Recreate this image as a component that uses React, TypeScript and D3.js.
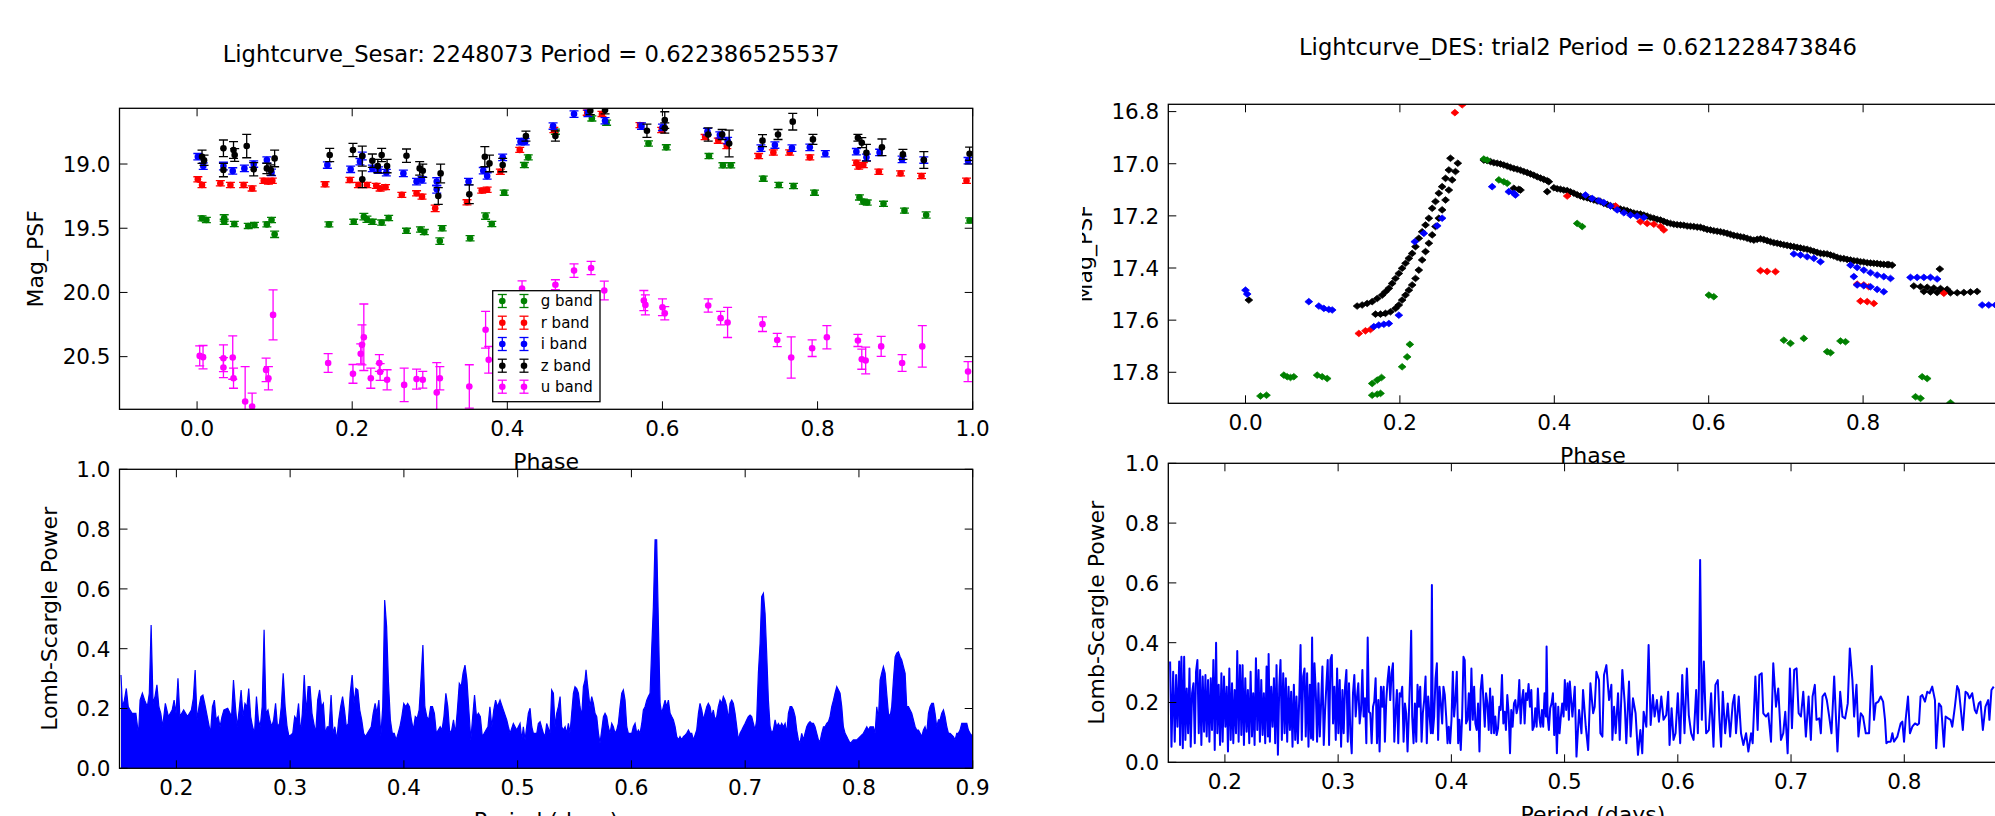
import React from 'react';
import * as d3 from 'd3';

// ---------------- text ----------------
const sesarTitle = 'Lightcurve_Sesar: 2248073 Period = 0.622386525537';
const desTitle = 'Lightcurve_DES: trial2 Period = 0.621228473846';
const bandNames = ['g band', 'r band', 'i band', 'z band', 'u band'];

// ---------------- ticks ----------------
const phaseTicks = [0.0, 0.2, 0.4, 0.6, 0.8, 1.0];
const sesarMagTicks = [19.0, 19.5, 20.0, 20.5];
const desMagTicks = [16.8, 17.0, 17.2, 17.4, 17.6, 17.8];
const powerTicks = [0.0, 0.2, 0.4, 0.6, 0.8, 1.0];
const periodTicks = [0.2, 0.3, 0.4, 0.5, 0.6, 0.7, 0.8, 0.9];

// ---------------- Sesar light curve: [phase, mag, err] ----------------
const gBand: [number, number, number][] = [
  [0.0064, 19.423, 0.02], [0.012, 19.436, 0.02], [0.035, 19.42, 0.025], [0.035, 19.45, 0.02], [0.048, 19.467, 0.02],
  [0.066, 19.482, 0.02], [0.074, 19.475, 0.02], [0.09, 19.47, 0.02], [0.096, 19.436, 0.02], [0.1, 19.547, 0.025],
  [0.17, 19.47, 0.02], [0.202, 19.45, 0.02], [0.215, 19.41, 0.025], [0.219, 19.43, 0.025], [0.226, 19.45, 0.02],
  [0.238, 19.456, 0.02], [0.247, 19.42, 0.02], [0.27, 19.52, 0.02], [0.288, 19.51, 0.02], [0.293, 19.53, 0.02],
  [0.313, 19.6, 0.025], [0.316, 19.5, 0.02], [0.352, 19.578, 0.02], [0.372, 19.405, 0.025], [0.38, 19.467, 0.02],
  [0.396, 19.223, 0.02], [0.422, 19.008, 0.02], [0.427, 18.948, 0.02], [0.462, 18.748, 0.02], [0.509, 18.645, 0.02],
  [0.528, 18.678, 0.02], [0.582, 18.84, 0.02], [0.605, 18.87, 0.02], [0.66, 18.938, 0.02], [0.678, 19.01, 0.02],
  [0.688, 19.01, 0.02], [0.73, 19.114, 0.02], [0.75, 19.163, 0.02], [0.769, 19.171, 0.02], [0.796, 19.223, 0.02],
  [0.854, 19.26, 0.02], [0.859, 19.293, 0.02], [0.864, 19.3, 0.02], [0.885, 19.31, 0.02], [0.912, 19.363, 0.02],
  [0.94, 19.397, 0.025], [0.996, 19.44, 0.02],
];
const rBand: [number, number, number][] = [
  [0.001, 19.119, 0.02], [0.0064, 19.163, 0.02], [0.03, 19.15, 0.02], [0.043, 19.163, 0.02], [0.06, 19.163, 0.02],
  [0.071, 19.19, 0.02], [0.086, 19.13, 0.02], [0.092, 19.137, 0.02], [0.097, 19.13, 0.02], [0.165, 19.158, 0.02],
  [0.197, 19.124, 0.02], [0.208, 19.163, 0.02], [0.219, 19.163, 0.02], [0.231, 19.17, 0.02], [0.236, 19.19, 0.02],
  [0.243, 19.18, 0.02], [0.264, 19.24, 0.02], [0.283, 19.228, 0.02], [0.29, 19.254, 0.02], [0.307, 19.345, 0.025],
  [0.348, 19.298, 0.02], [0.367, 19.207, 0.02], [0.374, 19.2, 0.02], [0.391, 19.06, 0.02], [0.416, 18.89, 0.02],
  [0.46, 18.735, 0.02], [0.503, 18.6, 0.02], [0.522, 18.61, 0.02], [0.571, 18.697, 0.02], [0.599, 18.735, 0.02],
  [0.655, 18.79, 0.02], [0.672, 18.818, 0.02], [0.683, 18.86, 0.02], [0.724, 18.938, 0.02], [0.743, 18.91, 0.02],
  [0.764, 18.91, 0.02], [0.79, 18.948, 0.02], [0.85, 18.99, 0.02], [0.853, 19.02, 0.02], [0.859, 19.008, 0.02],
  [0.879, 19.06, 0.02], [0.907, 19.073, 0.02], [0.934, 19.093, 0.02], [0.992, 19.13, 0.02],
];
const iBand: [number, number, number][] = [
  [0.001, 18.943, 0.025], [0.008, 19.016, 0.025], [0.034, 19.016, 0.03], [0.046, 19.054, 0.025], [0.061, 19.034, 0.025],
  [0.073, 19.0, 0.025], [0.09, 18.969, 0.025], [0.096, 19.065, 0.025], [0.168, 19.008, 0.025], [0.198, 19.041, 0.025],
  [0.21, 18.982, 0.025], [0.213, 18.938, 0.03], [0.226, 19.034, 0.025], [0.234, 19.047, 0.025], [0.244, 19.067, 0.025],
  [0.266, 19.073, 0.025], [0.283, 19.137, 0.025], [0.29, 19.124, 0.025], [0.309, 19.197, 0.03], [0.309, 19.137, 0.03],
  [0.35, 19.137, 0.025], [0.369, 19.052, 0.025], [0.374, 19.093, 0.025], [0.394, 18.948, 0.025], [0.417, 18.826, 0.025],
  [0.423, 18.826, 0.025], [0.459, 18.704, 0.025], [0.486, 18.611, 0.025], [0.504, 18.606, 0.025], [0.526, 18.663, 0.025],
  [0.573, 18.704, 0.025], [0.6, 18.715, 0.025], [0.658, 18.748, 0.025], [0.674, 18.774, 0.025], [0.684, 18.818, 0.025],
  [0.727, 18.876, 0.025], [0.745, 18.852, 0.025], [0.767, 18.876, 0.025], [0.79, 18.87, 0.025], [0.81, 18.92, 0.025],
  [0.85, 18.904, 0.025], [0.863, 18.948, 0.025], [0.88, 18.91, 0.025], [0.909, 18.964, 0.025], [0.937, 18.969, 0.025],
  [0.994, 18.974, 0.025],
];
const zBand: [number, number, number][] = [
  [0.0064, 18.943, 0.052], [0.009, 18.97, 0.04], [0.034, 18.878, 0.065], [0.034, 19.047, 0.052], [0.047, 18.891, 0.065],
  [0.0485, 18.93, 0.05], [0.064, 18.86, 0.091], [0.073, 19.041, 0.052], [0.09, 19.034, 0.04], [0.095, 19.047, 0.04],
  [0.1, 18.956, 0.065], [0.171, 18.93, 0.052], [0.201, 18.891, 0.052], [0.213, 19.119, 0.065], [0.213, 18.938, 0.078],
  [0.226, 18.974, 0.052], [0.233, 19.016, 0.052], [0.238, 18.93, 0.052], [0.245, 19.016, 0.052], [0.27, 18.935, 0.052],
  [0.287, 19.034, 0.052], [0.291, 19.052, 0.052], [0.311, 19.249, 0.065], [0.314, 19.073, 0.073], [0.351, 19.236, 0.073],
  [0.371, 18.943, 0.078], [0.377, 18.995, 0.065], [0.394, 19.008, 0.052], [0.424, 18.782, 0.039], [0.462, 18.782, 0.04],
  [0.507, 18.585, 0.03], [0.526, 18.58, 0.03], [0.58, 18.741, 0.052], [0.603, 18.658, 0.065], [0.603, 18.72, 0.04],
  [0.659, 18.77, 0.052], [0.677, 18.77, 0.039], [0.686, 18.84, 0.104], [0.729, 18.818, 0.047], [0.749, 18.77, 0.039],
  [0.768, 18.67, 0.065], [0.794, 18.808, 0.039], [0.852, 18.795, 0.026], [0.857, 18.834, 0.039], [0.863, 18.912, 0.065],
  [0.883, 18.87, 0.065], [0.91, 18.925, 0.039], [0.937, 18.969, 0.065], [0.996, 18.92, 0.052],
];
const uBand: [number, number, number][] = [
  [0.0034, 20.494, 0.078], [0.0077, 20.504, 0.091], [0.034, 20.512, 0.104], [0.034, 20.585, 0.078], [0.046, 20.507, 0.169],
  [0.047, 20.668, 0.078], [0.062, 20.849, 0.272], [0.071, 20.888, 0.104], [0.089, 20.603, 0.091], [0.092, 20.668, 0.091],
  [0.098, 20.175, 0.195], [0.169, 20.55, 0.073], [0.201, 20.634, 0.073], [0.211, 20.478, 0.078], [0.2126, 20.408, 0.156],
  [0.215, 20.349, 0.259], [0.224, 20.668, 0.078], [0.235, 20.55, 0.065], [0.236, 20.62, 0.065], [0.245, 20.68, 0.078],
  [0.267, 20.72, 0.13], [0.283, 20.675, 0.078], [0.291, 20.68, 0.065], [0.309, 20.78, 0.233], [0.313, 20.668, 0.091],
  [0.351, 20.732, 0.169], [0.372, 20.29, 0.143], [0.376, 20.525, 0.104], [0.419, 19.97, 0.06], [0.462, 19.94, 0.039],
  [0.486, 19.83, 0.052], [0.508, 19.81, 0.052], [0.525, 19.985, 0.073], [0.576, 20.063, 0.078], [0.578, 20.097, 0.078],
  [0.6, 20.115, 0.065], [0.603, 20.162, 0.052], [0.659, 20.102, 0.052], [0.675, 20.2, 0.052], [0.684, 20.234, 0.117],
  [0.729, 20.247, 0.057], [0.748, 20.37, 0.052], [0.766, 20.507, 0.161], [0.793, 20.434, 0.065], [0.812, 20.349, 0.091],
  [0.852, 20.374, 0.047], [0.857, 20.52, 0.078], [0.862, 20.53, 0.104], [0.882, 20.42, 0.078], [0.909, 20.55, 0.065],
  [0.935, 20.42, 0.161], [0.994, 20.616, 0.078],
];

// ---------------- DES light curve: [phase, mag] ----------------
const desZ: [number, number][] = [
  [0.0043, 17.523],
  [0.1446, 17.546], [0.1511, 17.542], [0.1576, 17.536], [0.1641, 17.529], [0.1706, 17.517], [0.177, 17.504], [0.1813, 17.491],
  [0.1857, 17.478], [0.19, 17.459], [0.1943, 17.44], [0.1986, 17.421], [0.2029, 17.401], [0.2073, 17.382], [0.2116, 17.363],
  [0.2159, 17.344], [0.2202, 17.318], [0.2245, 17.286], [0.2288, 17.261], [0.2332, 17.235], [0.2375, 17.209], [0.2418, 17.171],
  [0.2461, 17.145], [0.2504, 17.113], [0.2547, 17.088], [0.2591, 17.056], [0.2634, 17.024], [0.2655, 16.979],
  [0.1684, 17.577], [0.1749, 17.577], [0.1813, 17.574], [0.1878, 17.568], [0.1943, 17.555], [0.1986, 17.542], [0.2029, 17.523],
  [0.2073, 17.504], [0.2116, 17.485], [0.2159, 17.465], [0.2202, 17.44], [0.2245, 17.408], [0.2288, 17.369], [0.2332, 17.337],
  [0.2375, 17.305], [0.2418, 17.273], [0.2461, 17.241], [0.2504, 17.209], [0.2547, 17.177], [0.2591, 17.139], [0.2634, 17.101],
  [0.2677, 17.062], [0.272, 17.03], [0.275, 16.998],
  [0.3087, 16.986], [0.313, 16.988], [0.3174, 16.992], [0.3217, 16.996], [0.326, 16.998], [0.3303, 17.001], [0.3346, 17.005],
  [0.3389, 17.009], [0.3433, 17.014], [0.3476, 17.018], [0.3519, 17.021], [0.3562, 17.025], [0.3605, 17.03], [0.3649, 17.034],
  [0.3692, 17.039], [0.3735, 17.044], [0.3778, 17.05], [0.3821, 17.055], [0.3864, 17.06], [0.3908, 17.065], [0.3929, 17.069],
  [0.3476, 17.094], [0.3562, 17.101], [0.354, 17.098], [0.3908, 17.107],
  [0.3994, 17.092], [0.4037, 17.096], [0.408, 17.098], [0.4123, 17.101], [0.4167, 17.103], [0.421, 17.108], [0.4253, 17.113],
  [0.4296, 17.119], [0.4339, 17.124], [0.4382, 17.128], [0.4426, 17.131], [0.4469, 17.135], [0.4512, 17.139], [0.4555, 17.143],
  [0.4598, 17.145], [0.4641, 17.152], [0.4685, 17.156], [0.4728, 17.161], [0.4771, 17.165], [0.4814, 17.17], [0.4857, 17.174],
  [0.4901, 17.177], [0.4944, 17.18], [0.4987, 17.185], [0.503, 17.189], [0.5073, 17.192], [0.5116, 17.193], [0.516, 17.197],
  [0.5203, 17.201], [0.5246, 17.206], [0.5289, 17.209], [0.5332, 17.213], [0.5376, 17.216], [0.5419, 17.221], [0.5462, 17.226],
  [0.5505, 17.229], [0.5548, 17.232], [0.5591, 17.234], [0.5635, 17.235], [0.5678, 17.236], [0.5721, 17.239], [0.5764, 17.24],
  [0.5807, 17.241], [0.5851, 17.243], [0.5894, 17.244], [0.5937, 17.248], [0.598, 17.252], [0.6023, 17.254], [0.6066, 17.257],
  [0.611, 17.259], [0.6153, 17.261], [0.6196, 17.264], [0.6239, 17.267], [0.6282, 17.271], [0.6325, 17.275], [0.6369, 17.277],
  [0.6412, 17.28], [0.6455, 17.282], [0.6498, 17.286], [0.6541, 17.29], [0.6585, 17.293], [0.6628, 17.29], [0.6671, 17.288],
  [0.6714, 17.291], [0.6757, 17.295], [0.68, 17.299], [0.6844, 17.303], [0.6887, 17.305], [0.693, 17.308], [0.6973, 17.311],
  [0.7016, 17.313], [0.706, 17.316], [0.7103, 17.318], [0.7146, 17.321], [0.7189, 17.323], [0.7232, 17.326], [0.7275, 17.328],
  [0.7319, 17.332], [0.7362, 17.336], [0.7405, 17.34], [0.7448, 17.344], [0.7491, 17.345], [0.7534, 17.346], [0.7578, 17.35],
  [0.7621, 17.354], [0.7664, 17.359], [0.7707, 17.363], [0.775, 17.364], [0.7793, 17.367], [0.7837, 17.369], [0.788, 17.372],
  [0.7923, 17.373], [0.7966, 17.376], [0.8009, 17.377], [0.8053, 17.38], [0.8096, 17.381], [0.8139, 17.382], [0.8182, 17.383],
  [0.8225, 17.385], [0.8268, 17.386], [0.8312, 17.387], [0.8333, 17.387], [0.8376, 17.389],
  [0.8994, 17.404],
  [0.8657, 17.469], [0.8744, 17.472], [0.883, 17.474], [0.8916, 17.477], [0.9003, 17.479], [0.9089, 17.482],
  [0.8787, 17.49], [0.8873, 17.492], [0.8959, 17.494], [0.9046, 17.494], [0.9132, 17.495], [0.9219, 17.495], [0.9305, 17.494],
  [0.9391, 17.492], [0.9477, 17.49],
];
const desI: [number, number][] = [
  [0.0, 17.485], [0.0022, 17.5], [0.082, 17.529], [0.095, 17.546], [0.1015, 17.555], [0.1079, 17.559], [0.1123, 17.561],
  [0.1662, 17.625], [0.1727, 17.619], [0.1792, 17.616], [0.1857, 17.613], [0.1986, 17.581], [0.2193, 17.299], [0.231, 17.267],
  [0.2483, 17.238], [0.2547, 17.209], [0.3195, 17.088], [0.3411, 17.107], [0.3497, 17.12], [0.3476, 17.113],
  [0.4404, 17.12], [0.449, 17.133], [0.4577, 17.142], [0.4641, 17.149], [0.4728, 17.162], [0.4814, 17.177], [0.4901, 17.188],
  [0.4987, 17.197], [0.5073, 17.201], [0.516, 17.206],
  [0.7103, 17.346], [0.7189, 17.35], [0.7275, 17.357], [0.7362, 17.363], [0.7448, 17.376],
  [0.7837, 17.389], [0.7923, 17.398], [0.8009, 17.408], [0.8096, 17.418], [0.8182, 17.427], [0.8268, 17.433], [0.8355, 17.44],
  [0.788, 17.433], [0.7923, 17.465], [0.8009, 17.468], [0.8096, 17.472], [0.8182, 17.482], [0.8268, 17.491],
  [0.8614, 17.436], [0.87, 17.436], [0.8787, 17.436], [0.8873, 17.436], [0.8959, 17.442],
  [0.9542, 17.542], [0.9628, 17.542], [0.9715, 17.542],
];
const desR: [number, number][] = [
  [0.2712, 16.804], [0.2807, 16.774], [0.1468, 17.651], [0.1554, 17.641], [0.1619, 17.636],
  [0.4167, 17.124], [0.4793, 17.162], [0.5116, 17.222], [0.5203, 17.229], [0.5289, 17.232], [0.5376, 17.241], [0.5419, 17.254],
  [0.6671, 17.41], [0.6757, 17.413], [0.6865, 17.414], [0.7923, 17.462], [0.8009, 17.465], [0.8074, 17.472],
  [0.7966, 17.527], [0.8053, 17.529], [0.8139, 17.536], [0.9046, 17.497],
];
const desG: [number, number][] = [
  [0.0194, 17.891], [0.0272, 17.888], [0.0497, 17.811], [0.054, 17.817], [0.0583, 17.82], [0.0626, 17.817],
  [0.0928, 17.811], [0.0993, 17.817], [0.1058, 17.824], [0.1641, 17.888], [0.1706, 17.884], [0.1749, 17.881],
  [0.1641, 17.843], [0.1706, 17.83], [0.1762, 17.82], [0.2029, 17.779], [0.2094, 17.741], [0.2129, 17.693],
  [0.3087, 16.982], [0.313, 16.986], [0.3282, 17.062], [0.3346, 17.069], [0.339, 17.075],
  [0.4296, 17.229], [0.4361, 17.241], [0.6002, 17.504], [0.6066, 17.51], [0.6973, 17.677], [0.7059, 17.689], [0.7232, 17.67],
  [0.7534, 17.721], [0.7578, 17.725], [0.7707, 17.68], [0.7772, 17.683], [0.8765, 17.817], [0.883, 17.824],
  [0.8679, 17.894], [0.8744, 17.9], [0.9132, 17.917],
];

// ---------------- Sesar Lomb-Scargle (upper envelope): [period, power] ----------------
const lsSesar: [number, number][] = [
  [0.1513, 0.312], [0.1526, 0.206], [0.1543, 0.228], [0.156, 0.267], [0.1577, 0.206], [0.1593, 0.195], [0.161, 0.184],
  [0.1644, 0.184], [0.1667, 0.111], [0.1681, 0.228], [0.1701, 0.251], [0.1721, 0.228], [0.1745, 0.206], [0.1762, 0.251],
  [0.1778, 0.479], [0.1795, 0.217], [0.1812, 0.24], [0.1829, 0.279], [0.1846, 0.206], [0.1863, 0.184], [0.1879, 0.139],
  [0.1903, 0.217], [0.193, 0.173], [0.1963, 0.195], [0.198, 0.228], [0.1997, 0.184], [0.2014, 0.301], [0.2031, 0.173],
  [0.2064, 0.195], [0.2098, 0.173], [0.2132, 0.195], [0.2149, 0.234], [0.2165, 0.329], [0.2182, 0.162], [0.2199, 0.206],
  [0.2216, 0.24], [0.2233, 0.245], [0.2249, 0.217], [0.2266, 0.184], [0.23, 0.117], [0.2317, 0.206], [0.2334, 0.228],
  [0.235, 0.162], [0.2367, 0.173], [0.2384, 0.139], [0.2401, 0.173], [0.2418, 0.195], [0.2451, 0.201], [0.2485, 0.173],
  [0.2502, 0.295], [0.2519, 0.206], [0.2535, 0.139], [0.2552, 0.195], [0.2569, 0.262], [0.2586, 0.173], [0.2603, 0.217],
  [0.262, 0.206], [0.2636, 0.267], [0.2653, 0.173], [0.267, 0.139], [0.2687, 0.117], [0.2704, 0.24], [0.2721, 0.162],
  [0.2737, 0.139], [0.2754, 0.206], [0.2771, 0.463], [0.2788, 0.184], [0.2805, 0.195], [0.2822, 0.162], [0.2838, 0.139],
  [0.2855, 0.162], [0.2872, 0.217], [0.2889, 0.139], [0.2906, 0.15], [0.2922, 0.206], [0.2939, 0.318], [0.2956, 0.206],
  [0.2973, 0.139], [0.299, 0.106], [0.3023, 0.117], [0.304, 0.173], [0.3057, 0.162], [0.3074, 0.217], [0.3091, 0.117],
  [0.3107, 0.184], [0.3124, 0.312], [0.3141, 0.184], [0.3158, 0.273], [0.3175, 0.273], [0.3192, 0.184], [0.3208, 0.15],
  [0.3225, 0.117], [0.3242, 0.228], [0.3259, 0.262], [0.3276, 0.206], [0.3292, 0.217], [0.3309, 0.117], [0.3326, 0.139],
  [0.3343, 0.139], [0.336, 0.245], [0.3377, 0.117], [0.3393, 0.139], [0.341, 0.095], [0.3427, 0.162], [0.3444, 0.206],
  [0.3461, 0.24], [0.3478, 0.195], [0.3494, 0.139], [0.3511, 0.15], [0.3528, 0.251], [0.3545, 0.312], [0.3562, 0.217],
  [0.3578, 0.267], [0.3595, 0.262], [0.3612, 0.195], [0.3629, 0.162], [0.3646, 0.117], [0.3663, 0.106], [0.3679, 0.117],
  [0.3696, 0.128], [0.3713, 0.139], [0.373, 0.184], [0.3747, 0.217], [0.3763, 0.184], [0.378, 0.228], [0.3797, 0.106],
  [0.3814, 0.206], [0.3831, 0.563], [0.3848, 0.474], [0.3864, 0.29], [0.3881, 0.162], [0.3898, 0.117], [0.3915, 0.117],
  [0.3932, 0.095], [0.3949, 0.117], [0.3965, 0.139], [0.3982, 0.173], [0.3999, 0.217], [0.4016, 0.206], [0.4033, 0.217],
  [0.4049, 0.206], [0.4066, 0.162], [0.4083, 0.128], [0.41, 0.173], [0.4117, 0.167], [0.4134, 0.195], [0.415, 0.295],
  [0.4167, 0.412], [0.4184, 0.206], [0.4201, 0.173], [0.4218, 0.162], [0.4235, 0.206], [0.4251, 0.206], [0.4268, 0.184],
  [0.4285, 0.117], [0.4302, 0.128], [0.4319, 0.139], [0.4335, 0.128], [0.4352, 0.173], [0.4369, 0.251], [0.4386, 0.206],
  [0.4403, 0.117], [0.442, 0.128], [0.4436, 0.162], [0.4453, 0.117], [0.447, 0.195], [0.4487, 0.284], [0.4504, 0.273],
  [0.452, 0.318], [0.4537, 0.345], [0.4554, 0.295], [0.4571, 0.195], [0.4588, 0.095], [0.4605, 0.173], [0.4621, 0.245],
  [0.4638, 0.173], [0.4655, 0.184], [0.4672, 0.173], [0.4689, 0.106], [0.4706, 0.117], [0.4722, 0.128], [0.4739, 0.139],
  [0.4756, 0.206], [0.4773, 0.139], [0.479, 0.195], [0.4806, 0.228], [0.4823, 0.206],
  [0.4845, 0.228], [0.4874, 0.195], [0.4904, 0.162], [0.4918, 0.139], [0.4933, 0.117], [0.4962, 0.15], [0.4992, 0.128],
  [0.5021, 0.15], [0.5036, 0.095], [0.505, 0.139], [0.5065, 0.095], [0.5094, 0.184], [0.5109, 0.201], [0.5124, 0.139],
  [0.5138, 0.117], [0.5168, 0.117], [0.5182, 0.15], [0.5197, 0.156], [0.5226, 0.117], [0.5241, 0.106], [0.5255, 0.15],
  [0.5285, 0.117], [0.5299, 0.262], [0.5314, 0.251], [0.5329, 0.139], [0.5343, 0.184], [0.5358, 0.206], [0.5373, 0.24],
  [0.5387, 0.139], [0.5402, 0.128], [0.5417, 0.139], [0.5431, 0.117], [0.5446, 0.15], [0.546, 0.117], [0.5475, 0.184],
  [0.549, 0.251], [0.5504, 0.273], [0.5519, 0.267], [0.5534, 0.251], [0.5548, 0.206], [0.5563, 0.173], [0.5578, 0.273],
  [0.5592, 0.295], [0.5601, 0.329], [0.5613, 0.284], [0.5636, 0.206], [0.5651, 0.24], [0.5666, 0.217], [0.568, 0.184],
  [0.5695, 0.173], [0.571, 0.117], [0.5724, 0.084], [0.5739, 0.128], [0.5754, 0.173], [0.5768, 0.184], [0.5783, 0.173],
  [0.5797, 0.139], [0.5812, 0.117], [0.5827, 0.15], [0.5841, 0.139], [0.5856, 0.117], [0.5871, 0.128], [0.5885, 0.15],
  [0.59, 0.206], [0.5915, 0.251], [0.5929, 0.262], [0.5944, 0.228], [0.5959, 0.139], [0.5973, 0.117], [0.6003, 0.117],
  [0.6017, 0.139], [0.6032, 0.15], [0.6047, 0.117], [0.6061, 0.128], [0.6076, 0.117], [0.6091, 0.15], [0.6105, 0.195],
  [0.612, 0.206], [0.6135, 0.228], [0.6149, 0.24], [0.6164, 0.251], [0.6178, 0.396], [0.6193, 0.541], [0.6208, 0.764],
  [0.6222, 0.764], [0.6237, 0.485], [0.6252, 0.217], [0.6266, 0.184], [0.6281, 0.206], [0.6296, 0.228], [0.631, 0.206],
  [0.6325, 0.228], [0.634, 0.184], [0.6354, 0.173], [0.6369, 0.162], [0.6384, 0.139], [0.6398, 0.106], [0.6413, 0.095],
  [0.6427, 0.106], [0.6442, 0.095], [0.6457, 0.106], [0.6471, 0.111], [0.6486, 0.117], [0.6501, 0.128], [0.6515, 0.117],
  [0.653, 0.117], [0.6545, 0.095], [0.6559, 0.111], [0.6574, 0.128], [0.6589, 0.184], [0.6603, 0.217], [0.6618, 0.195],
  [0.6633, 0.162], [0.6647, 0.184], [0.6662, 0.206], [0.6676, 0.217], [0.6691, 0.206], [0.6706, 0.173], [0.672, 0.195],
  [0.6735, 0.162], [0.675, 0.173], [0.6764, 0.206], [0.6779, 0.228], [0.6794, 0.217], [0.6808, 0.24], [0.6823, 0.228],
  [0.6838, 0.206], [0.6852, 0.162], [0.6867, 0.217], [0.6882, 0.228], [0.6896, 0.217], [0.6911, 0.184], [0.6926, 0.139],
  [0.694, 0.095], [0.6955, 0.117], [0.697, 0.128], [0.6984, 0.139], [0.6999, 0.15], [0.7014, 0.162], [0.7028, 0.173],
  [0.7043, 0.178], [0.7057, 0.173], [0.7072, 0.15], [0.7087, 0.128], [0.7101, 0.162], [0.7116, 0.318], [0.7131, 0.418],
  [0.7145, 0.574], [0.716, 0.585], [0.7175, 0.518], [0.7189, 0.385], [0.7204, 0.228], [0.7219, 0.139], [0.7233, 0.117],
  [0.7248, 0.128], [0.7263, 0.162], [0.7277, 0.139], [0.7292, 0.15], [0.7307, 0.139], [0.7321, 0.15], [0.7336, 0.139],
  [0.7351, 0.15], [0.7365, 0.117], [0.738, 0.184], [0.7395, 0.206], [0.7409, 0.206], [0.7424, 0.195], [0.7439, 0.173],
  [0.7453, 0.128], [0.7468, 0.095], [0.7482, 0.084], [0.7497, 0.117], [0.7512, 0.095], [0.7526, 0.117], [0.7541, 0.139],
  [0.7556, 0.15], [0.757, 0.156], [0.7585, 0.15], [0.76, 0.15], [0.7614, 0.139], [0.7629, 0.117], [0.7644, 0.095],
  [0.7658, 0.089], [0.7673, 0.117], [0.7688, 0.139], [0.7702, 0.139], [0.7717, 0.15], [0.7732, 0.156], [0.7746, 0.173],
  [0.7761, 0.206], [0.7776, 0.228], [0.779, 0.251], [0.7805, 0.273], [0.782, 0.262], [0.7834, 0.251], [0.7849, 0.206],
  [0.7863, 0.139], [0.7878, 0.117], [0.7893, 0.106], [0.7907, 0.095], [0.7922, 0.084], [0.7937, 0.089], [0.7951, 0.095],
  [0.7981, 0.095], [0.801, 0.106], [0.8039, 0.117], [0.8069, 0.139], [0.8083, 0.128], [0.8098, 0.139], [0.8127, 0.139],
  [0.8142, 0.117], [0.8157, 0.206], [0.8171, 0.162], [0.8186, 0.295], [0.82, 0.318], [0.8215, 0.34], [0.823, 0.318],
  [0.8244, 0.251], [0.8259, 0.184], [0.8274, 0.173], [0.8288, 0.206], [0.8303, 0.295], [0.8318, 0.373], [0.8332, 0.385],
  [0.8347, 0.39], [0.8362, 0.373], [0.8376, 0.362], [0.8391, 0.34], [0.8406, 0.318], [0.842, 0.206], [0.8435, 0.206],
  [0.845, 0.195], [0.8464, 0.184], [0.8479, 0.162], [0.8494, 0.139], [0.8508, 0.128], [0.8523, 0.128], [0.8538, 0.117],
  [0.8552, 0.106], [0.8567, 0.128], [0.8581, 0.139], [0.8596, 0.117], [0.8611, 0.184], [0.8625, 0.206], [0.864, 0.217],
  [0.8655, 0.217], [0.8669, 0.184], [0.8684, 0.139], [0.8699, 0.162], [0.8713, 0.162], [0.8728, 0.184], [0.8743, 0.195],
  [0.8757, 0.173], [0.8772, 0.139], [0.8787, 0.117], [0.8801, 0.117], [0.883, 0.106], [0.8845, 0.095], [0.886, 0.117],
  [0.8874, 0.117], [0.8889, 0.128], [0.8904, 0.15], [0.8918, 0.15], [0.8948, 0.15], [0.8962, 0.128], [0.8977, 0.117],
  [0.9, 0.106],
];

// ---------------- DES Lomb-Scargle: [period, power] ----------------
const lsDes: [number, number][] = [
  [0.1516, 0.337], [0.1528, 0.052], [0.1543, 0.303], [0.1557, 0.069], [0.1569, 0.292], [0.1581, 0.119], [0.1596, 0.337],
  [0.1604, 0.058], [0.1616, 0.353], [0.1628, 0.047], [0.164, 0.353], [0.1651, 0.075], [0.1663, 0.247], [0.1675, 0.097],
  [0.1687, 0.314], [0.1698, 0.052], [0.171, 0.231], [0.1722, 0.264], [0.1734, 0.064], [0.1745, 0.303], [0.1757, 0.342],
  [0.1769, 0.097], [0.1781, 0.309], [0.1792, 0.058], [0.1804, 0.287], [0.1816, 0.102], [0.1828, 0.292], [0.1839, 0.086],
  [0.1851, 0.275], [0.1863, 0.069], [0.1875, 0.281], [0.1886, 0.108], [0.1898, 0.342], [0.191, 0.041], [0.1922, 0.4],
  [0.1933, 0.097], [0.1945, 0.259], [0.1957, 0.058], [0.1969, 0.298], [0.198, 0.069], [0.1992, 0.287], [0.2004, 0.119],
  [0.2016, 0.253], [0.2027, 0.036], [0.2039, 0.314], [0.2051, 0.075], [0.2063, 0.264], [0.2074, 0.064], [0.2086, 0.242],
  [0.2098, 0.097], [0.2109, 0.372], [0.2121, 0.069], [0.2133, 0.325], [0.2145, 0.091], [0.2156, 0.325], [0.2168, 0.058],
  [0.218, 0.281], [0.2192, 0.102], [0.2203, 0.242], [0.2215, 0.064], [0.2227, 0.303], [0.2239, 0.086], [0.225, 0.231],
  [0.2262, 0.058], [0.2274, 0.348], [0.2286, 0.108], [0.2297, 0.309], [0.2309, 0.069], [0.2321, 0.275], [0.2333, 0.091],
  [0.2344, 0.231], [0.2356, 0.064], [0.2368, 0.32], [0.238, 0.086], [0.2386, 0.362], [0.2397, 0.069], [0.2409, 0.253],
  [0.2421, 0.119], [0.2433, 0.281], [0.2444, 0.064], [0.2456, 0.325], [0.2468, 0.025], [0.248, 0.253], [0.2491, 0.342],
  [0.2503, 0.075], [0.2515, 0.298], [0.2527, 0.097], [0.2538, 0.281], [0.255, 0.069], [0.2562, 0.253], [0.2574, 0.108],
  [0.2585, 0.236], [0.2597, 0.052], [0.2609, 0.259], [0.2621, 0.075], [0.2632, 0.22], [0.2644, 0.064], [0.2656, 0.208],
  [0.2668, 0.392], [0.2679, 0.075], [0.2691, 0.287], [0.2703, 0.314], [0.2714, 0.086], [0.2726, 0.298], [0.2738, 0.052],
  [0.275, 0.259], [0.2761, 0.08], [0.277, 0.417], [0.2779, 0.075], [0.2791, 0.331], [0.2803, 0.231], [0.2814, 0.069],
  [0.2826, 0.264], [0.2838, 0.086], [0.285, 0.203], [0.2861, 0.32], [0.2873, 0.058], [0.2885, 0.175], [0.2897, 0.264],
  [0.2908, 0.342], [0.292, 0.058], [0.2932, 0.344], [0.2944, 0.359], [0.2955, 0.13], [0.2967, 0.253], [0.2979, 0.075],
  [0.2991, 0.314], [0.3002, 0.097], [0.3014, 0.275], [0.3026, 0.052], [0.3038, 0.242], [0.3049, 0.097], [0.3061, 0.253],
  [0.3073, 0.309], [0.3085, 0.069], [0.3096, 0.264], [0.3108, 0.097], [0.312, 0.03], [0.3131, 0.231], [0.3143, 0.292],
  [0.3155, 0.153], [0.3167, 0.22], [0.3178, 0.264], [0.319, 0.13], [0.3202, 0.175], [0.3214, 0.309], [0.3225, 0.153],
  [0.3237, 0.214], [0.3249, 0.064], [0.3261, 0.417], [0.3272, 0.169], [0.3284, 0.164], [0.3296, 0.064], [0.3308, 0.186],
  [0.3319, 0.203], [0.3331, 0.281], [0.3343, 0.064], [0.3355, 0.208], [0.3366, 0.036], [0.3378, 0.253], [0.339, 0.186],
  [0.3402, 0.253], [0.3413, 0.069], [0.3425, 0.208], [0.3437, 0.275], [0.3449, 0.32], [0.346, 0.208], [0.3472, 0.298],
  [0.3484, 0.331], [0.3496, 0.069], [0.3507, 0.164], [0.3519, 0.242], [0.3531, 0.064], [0.3543, 0.231], [0.3554, 0.22],
  [0.3566, 0.253], [0.3578, 0.069], [0.359, 0.197], [0.3601, 0.164], [0.3613, 0.036], [0.3625, 0.164], [0.3637, 0.309],
  [0.3645, 0.44], [0.3654, 0.153], [0.3666, 0.064], [0.3678, 0.197], [0.369, 0.069], [0.3701, 0.259], [0.3713, 0.186],
  [0.3725, 0.253], [0.3737, 0.069], [0.3748, 0.164], [0.376, 0.208], [0.3772, 0.287], [0.3783, 0.064], [0.3795, 0.22],
  [0.3807, 0.158], [0.3819, 0.097], [0.3828, 0.593], [0.3836, 0.097], [0.3848, 0.153], [0.386, 0.281], [0.3872, 0.331],
  [0.3883, 0.075], [0.3895, 0.253], [0.3907, 0.197], [0.3919, 0.13], [0.393, 0.253], [0.3942, 0.225], [0.3954, 0.153],
  [0.3966, 0.064], [0.3977, 0.119], [0.3989, 0.064], [0.4001, 0.142], [0.4013, 0.303], [0.4024, 0.153], [0.4036, 0.208],
  [0.4048, 0.303], [0.406, 0.064], [0.4071, 0.142], [0.4083, 0.041], [0.4095, 0.153], [0.4107, 0.353], [0.4118, 0.342],
  [0.413, 0.13], [0.4142, 0.142], [0.4154, 0.231], [0.4165, 0.108], [0.4177, 0.314], [0.4189, 0.142], [0.4201, 0.253],
  [0.4212, 0.13], [0.4224, 0.108], [0.4236, 0.197], [0.4248, 0.036], [0.4259, 0.242], [0.4271, 0.292], [0.4283, 0.208],
  [0.4295, 0.119], [0.4306, 0.231], [0.4318, 0.197], [0.433, 0.108], [0.4342, 0.247], [0.4353, 0.097], [0.4365, 0.22],
  [0.4377, 0.097], [0.4388, 0.153], [0.44, 0.091], [0.4412, 0.114], [0.4424, 0.186], [0.4435, 0.175], [0.4447, 0.292],
  [0.4459, 0.13], [0.4471, 0.169], [0.4482, 0.108], [0.4494, 0.225], [0.4506, 0.164], [0.4518, 0.03], [0.4529, 0.175],
  [0.4541, 0.119], [0.4553, 0.197], [0.4565, 0.208], [0.4576, 0.164], [0.4588, 0.186], [0.46, 0.275], [0.4612, 0.13],
  [0.4623, 0.208], [0.4635, 0.242], [0.4647, 0.13], [0.4659, 0.231], [0.467, 0.208], [0.4682, 0.262], [0.4694, 0.186],
  [0.4706, 0.242], [0.4717, 0.108], [0.4729, 0.119], [0.4741, 0.181], [0.4753, 0.119], [0.4764, 0.247], [0.4776, 0.153],
  [0.4788, 0.119], [0.48, 0.175], [0.4811, 0.119], [0.4823, 0.231], [0.4835, 0.153], [0.4841, 0.387], [0.485, 0.153],
  [0.4861, 0.108], [0.4873, 0.181], [0.4885, 0.197], [0.4897, 0.231], [0.4908, 0.091], [0.492, 0.197], [0.4932, 0.03],
  [0.4944, 0.186], [0.4955, 0.097], [0.4967, 0.153], [0.4979, 0.197], [0.4991, 0.153], [0.5002, 0.275], [0.5014, 0.175],
  [0.5026, 0.264], [0.5038, 0.142],
  [0.5046, 0.27], [0.5069, 0.153], [0.509, 0.253], [0.5105, 0.019], [0.5128, 0.175], [0.5149, 0.097], [0.5163, 0.242],
  [0.5187, 0.119], [0.5208, 0.041], [0.5228, 0.264], [0.5252, 0.164], [0.5266, 0.186], [0.5281, 0.303], [0.5304, 0.275],
  [0.5316, 0.097], [0.5334, 0.086], [0.5348, 0.292], [0.5369, 0.325], [0.5393, 0.208], [0.5413, 0.259], [0.5422, 0.075],
  [0.5437, 0.186], [0.5451, 0.097], [0.5472, 0.231], [0.5487, 0.075], [0.551, 0.309], [0.5531, 0.197], [0.5545, 0.064],
  [0.5569, 0.27], [0.5583, 0.086], [0.5604, 0.214], [0.5627, 0.164], [0.5648, 0.025], [0.5669, 0.108], [0.5686, 0.03],
  [0.5698, 0.169], [0.5722, 0.119], [0.5742, 0.392], [0.576, 0.125], [0.578, 0.225], [0.5795, 0.153], [0.5815, 0.208],
  [0.5833, 0.136], [0.5854, 0.22], [0.5874, 0.142], [0.5898, 0.158], [0.5915, 0.236], [0.5927, 0.058], [0.5945, 0.181],
  [0.5962, 0.075], [0.598, 0.097], [0.6, 0.231], [0.6021, 0.064], [0.6039, 0.292], [0.6059, 0.097], [0.608, 0.314],
  [0.6097, 0.158], [0.6118, 0.097], [0.6139, 0.075], [0.6162, 0.242], [0.6177, 0.097], [0.6186, 0.247], [0.6197, 0.677],
  [0.6212, 0.142], [0.623, 0.337], [0.625, 0.097], [0.6274, 0.108], [0.6294, 0.231], [0.6315, 0.052], [0.6332, 0.259],
  [0.6353, 0.275], [0.6368, 0.142], [0.6382, 0.052], [0.6397, 0.236], [0.6418, 0.097], [0.6441, 0.197], [0.6462, 0.086],
  [0.6485, 0.197], [0.65, 0.225], [0.6514, 0.097], [0.6538, 0.22], [0.6558, 0.097], [0.6579, 0.058], [0.6603, 0.097],
  [0.6623, 0.036], [0.6647, 0.097], [0.6661, 0.064], [0.6685, 0.287], [0.6705, 0.108], [0.672, 0.292], [0.6741, 0.298],
  [0.6755, 0.164], [0.6779, 0.153], [0.6799, 0.164], [0.6823, 0.069], [0.6843, 0.331], [0.6867, 0.186], [0.6887, 0.247],
  [0.6911, 0.075], [0.6931, 0.097], [0.6949, 0.169], [0.697, 0.03], [0.699, 0.314], [0.7008, 0.114], [0.7028, 0.309],
  [0.7049, 0.314], [0.7067, 0.164], [0.7087, 0.153], [0.7108, 0.236], [0.7131, 0.086], [0.7155, 0.22], [0.7175, 0.075],
  [0.719, 0.22], [0.721, 0.259], [0.7225, 0.142], [0.7249, 0.147], [0.7263, 0.097], [0.7278, 0.22], [0.7299, 0.231],
  [0.7316, 0.208], [0.7337, 0.153], [0.7357, 0.097], [0.7381, 0.287], [0.7395, 0.164], [0.741, 0.036], [0.7434, 0.236],
  [0.7454, 0.153], [0.7478, 0.147], [0.7501, 0.197], [0.7519, 0.381], [0.7542, 0.275], [0.7557, 0.153], [0.7578, 0.259],
  [0.7595, 0.086], [0.7616, 0.164], [0.7636, 0.153], [0.766, 0.097], [0.7689, 0.097], [0.7713, 0.322], [0.7733, 0.142],
  [0.7748, 0.197], [0.7771, 0.203], [0.7792, 0.22], [0.7813, 0.203], [0.783, 0.142], [0.7842, 0.064], [0.7859, 0.069],
  [0.788, 0.069], [0.7895, 0.097], [0.7909, 0.069], [0.7939, 0.086], [0.7968, 0.13], [0.7983, 0.136], [0.7998, 0.069],
  [0.8012, 0.142], [0.8033, 0.22], [0.805, 0.097], [0.8071, 0.119], [0.8095, 0.13], [0.8115, 0.125], [0.813, 0.13],
  [0.8144, 0.22], [0.8159, 0.225], [0.8183, 0.203], [0.8203, 0.236], [0.8224, 0.231], [0.8247, 0.253], [0.8271, 0.208],
  [0.8282, 0.047], [0.8306, 0.197], [0.8326, 0.186], [0.835, 0.052], [0.8365, 0.153], [0.8388, 0.147], [0.8409, 0.142],
  [0.8424, 0.119], [0.8447, 0.186], [0.8467, 0.255], [0.8482, 0.242], [0.8497, 0.186], [0.8517, 0.108], [0.8541, 0.236],
  [0.8558, 0.231], [0.8576, 0.214], [0.86, 0.231], [0.8623, 0.175], [0.8638, 0.164], [0.8658, 0.197], [0.8673, 0.203],
  [0.8694, 0.108], [0.8717, 0.186], [0.8741, 0.208], [0.8752, 0.142], [0.877, 0.242], [0.879, 0.253],
];

// ---------------- layout / styles ----------------
const W = 1995;
const H = 816;
const FONT = "'DejaVu Sans', sans-serif";
const BLUE = '#0000ff';
const bandColors = ['#008000', '#ff0000', '#0000ff', '#000000', '#ff00ff'];
const LP = { x0: 119.5, x1: 972.7, ty0: 108.3, ty1: 409.3, by0: 469.3, by1: 768.3 };
const RP = { x0: 1168.3, x1: 2017.5, ty0: 104.3, ty1: 403.3, by0: 463.3, by1: 762.3 };
const TICK_FS = 21.5;
const LABEL_FS = 22;

function Frame(props: any) {
  const { x0, x1, y0, y1, xs, ys, xTicks, yTicks } = props;
  const tl = 8;
  return (
    <g>
      {xTicks.map((t: number) => {
        const X = xs(t);
        return (
          <g key={'x' + t}>
            <line x1={X} x2={X} y1={y1} y2={y1 - tl} stroke="#000" strokeWidth={1} />
            <line x1={X} x2={X} y1={y0} y2={y0 + tl} stroke="#000" strokeWidth={1} />
            {X + 18 < W ? (
              <text x={X} y={y1 + 27} textAnchor="middle" fontSize={TICK_FS}>{t.toFixed(1)}</text>
            ) : null}
          </g>
        );
      })}
      {yTicks.map((t: number) => {
        const Y = ys(t);
        return (
          <g key={'y' + t}>
            <line x1={x0} x2={x0 + tl} y1={Y} y2={Y} stroke="#000" strokeWidth={1} />
            <line x1={x1} x2={x1 - tl} y1={Y} y2={Y} stroke="#000" strokeWidth={1} />
            <text x={x0 - 9} y={Y + 7.8} textAnchor="end" fontSize={TICK_FS}>{t.toFixed(1)}</text>
          </g>
        );
      })}
      <rect x={x0} y={y0} width={x1 - x0} height={y1 - y0} fill="none" stroke="#000" strokeWidth={1.3} />
    </g>
  );
}

function ErrPoint({ x, y, y0, y1, color }: any) {
  return (
    <g stroke={color} strokeWidth={1.3}>
      <line x1={x} x2={x} y1={y0} y2={y1} />
      <line x1={x - 4.5} x2={x + 4.5} y1={y0} y2={y0} />
      <line x1={x - 4.5} x2={x + 4.5} y1={y1} y2={y1} />
      <circle cx={x} cy={y} r={3.3} fill={color} stroke="none" />
    </g>
  );
}

const diamond = (x: number, y: number) => `M${x},${y - 3.3}L${x + 3.9},${y}L${x},${y + 3.3}L${x - 3.9},${y}Z`;

export default function App() {
  const sx = d3.scaleLinear().domain([-0.1, 1.0]).range([LP.x0, LP.x1]);
  const sy = d3.scaleLinear().domain([18.566, 20.91]).range([LP.ty0, LP.ty1]);
  const lx = d3.scaleLinear().domain([0.15, 0.9]).range([LP.x0, LP.x1]);
  const ly = d3.scaleLinear().domain([0, 1]).range([LP.by1, LP.by0]);
  const dx = d3.scaleLinear().domain([-0.1, 1.0]).range([RP.x0, RP.x1]);
  const dy = d3.scaleLinear().domain([16.772, 17.919]).range([RP.ty0, RP.ty1]);
  const rx = d3.scaleLinear().domain([0.15, 0.9]).range([RP.x0, RP.x1]);
  const ry = d3.scaleLinear().domain([0, 1]).range([RP.by1, RP.by0]);

  const sesarBands = [gBand, rBand, iBand, zBand, uBand];
  const desBands: [number, number][][] = [desZ, desG, desR, desI];
  const desColors = ['#000000', '#008000', '#ff0000', '#0000ff'];

  const areaL = d3.area<[number, number]>().x((d) => lx(d[0])).y0(ly(0)).y1((d) => ly(d[1]));
  const lineL = d3.line<[number, number]>().x((d) => lx(d[0])).y((d) => ly(d[1]));
  const lineR = d3.line<[number, number]>().x((d) => rx(d[0])).y((d) => ry(d[1]));

  const legendRows = [301, 322.7, 344, 365.7, 386.7];

  return (
    <svg width={W} height={H} style={{ position: 'absolute', left: 0, top: 0, background: '#fff' }} fontFamily={FONT}>
      <defs>
        <clipPath id="cTL"><rect x={LP.x0} y={LP.ty0} width={LP.x1 - LP.x0} height={LP.ty1 - LP.ty0} /></clipPath>
        <clipPath id="cBL"><rect x={LP.x0} y={LP.by0} width={LP.x1 - LP.x0} height={LP.by1 - LP.by0} /></clipPath>
        <clipPath id="cTR"><rect x={RP.x0} y={RP.ty0} width={RP.x1 - RP.x0} height={RP.ty1 - RP.ty0} /></clipPath>
        <clipPath id="cBR"><rect x={RP.x0} y={RP.by0} width={RP.x1 - RP.x0} height={RP.by1 - RP.by0} /></clipPath>
        <clipPath id="cRightFig"><rect x={1082} y={0} width={W - 1082} height={H} /></clipPath>
      </defs>
      <rect x={0} y={0} width={W} height={H} fill="#fff" />

      {/* ================= LEFT FIGURE ================= */}
      <text x={531} y={61.5} textAnchor="middle" fontSize={22.7}>{sesarTitle}</text>

      <g clipPath="url(#cTL)">
        {sesarBands.map((band, bi) => (
          <g key={'b' + bi}>
            {band.map((d, i) => (
              <ErrPoint key={i} x={sx(d[0])} y={sy(d[1])} y0={sy(d[1] - d[2])} y1={sy(d[1] + d[2])} color={bandColors[bi]} />
            ))}
          </g>
        ))}
      </g>
      <Frame x0={LP.x0} x1={LP.x1} y0={LP.ty0} y1={LP.ty1} xs={sx} ys={sy} xTicks={phaseTicks} yTicks={sesarMagTicks} />

      {/* legend */}
      <g>
        <rect x={492.7} y={290.7} width={107.3} height={111} fill="#fff" stroke="#000" strokeWidth={1.3} />
        {bandNames.map((name, i) => (
          <g key={name}>
            <ErrPoint x={502.3} y={legendRows[i]} y0={legendRows[i] - 6.5} y1={legendRows[i] + 6.5} color={bandColors[i]} />
            <ErrPoint x={524} y={legendRows[i]} y0={legendRows[i] - 6.5} y1={legendRows[i] + 6.5} color={bandColors[i]} />
            <text x={540.7} y={legendRows[i] + 5.3} fontSize={15}>{name}</text>
          </g>
        ))}
      </g>

      <text transform={`translate(43.3,${(LP.ty0 + LP.ty1) / 2}) rotate(-90)`} textAnchor="middle" fontSize={LABEL_FS}>Mag_PSF</text>

      <g clipPath="url(#cBL)">
        <path d={areaL(lsSesar) || ''} fill={BLUE} stroke="none" />
        <path d={lineL(lsSesar) || ''} fill="none" stroke={BLUE} strokeWidth={1.2} />
      </g>
      <Frame x0={LP.x0} x1={LP.x1} y0={LP.by0} y1={LP.by1} xs={lx} ys={ly} xTicks={periodTicks} yTicks={powerTicks} />
      <text x={(LP.x0 + LP.x1) / 2} y={469.3} textAnchor="middle" fontSize={LABEL_FS}>Phase</text>
      <text transform={`translate(57,${(LP.by0 + LP.by1) / 2}) rotate(-90)`} textAnchor="middle" fontSize={LABEL_FS}>Lomb-Scargle Power</text>
      <text x={(LP.x0 + LP.x1) / 2} y={828} textAnchor="middle" fontSize={LABEL_FS}>Period (days)</text>

      {/* ================= RIGHT FIGURE ================= */}
      <g clipPath="url(#cRightFig)">
        <text x={1578} y={55} textAnchor="middle" fontSize={22.7}>{desTitle}</text>
        <g clipPath="url(#cTR)">
          {desBands.map((band, bi) => (
            <path key={'d' + bi} d={band.map((d) => diamond(dx(d[0]), dy(d[1]))).join('')} fill={desColors[bi]} stroke={desColors[bi]} strokeWidth={0.8} />
          ))}
        </g>
        <Frame x0={RP.x0} x1={RP.x1} y0={RP.ty0} y1={RP.ty1} xs={dx} ys={dy} xTicks={phaseTicks} yTicks={desMagTicks} />
        <text transform={`translate(1092,${(RP.ty0 + RP.ty1) / 2}) rotate(-90)`} textAnchor="middle" fontSize={LABEL_FS}>Mag_PSF</text>

        <g clipPath="url(#cBR)">
          <path d={lineR(lsDes) || ''} fill="none" stroke={BLUE} strokeWidth={2} strokeLinejoin="round" />
        </g>
        <Frame x0={RP.x0} x1={RP.x1} y0={RP.by0} y1={RP.by1} xs={rx} ys={ry} xTicks={periodTicks} yTicks={powerTicks} />
        <text x={(RP.x0 + RP.x1) / 2} y={463.3} textAnchor="middle" fontSize={LABEL_FS}>Phase</text>
        <text transform={`translate(1104,${(RP.by0 + RP.by1) / 2}) rotate(-90)`} textAnchor="middle" fontSize={LABEL_FS}>Lomb-Scargle Power</text>
        <text x={(RP.x0 + RP.x1) / 2} y={822} textAnchor="middle" fontSize={LABEL_FS}>Period (days)</text>
      </g>
    </svg>
  );
}
